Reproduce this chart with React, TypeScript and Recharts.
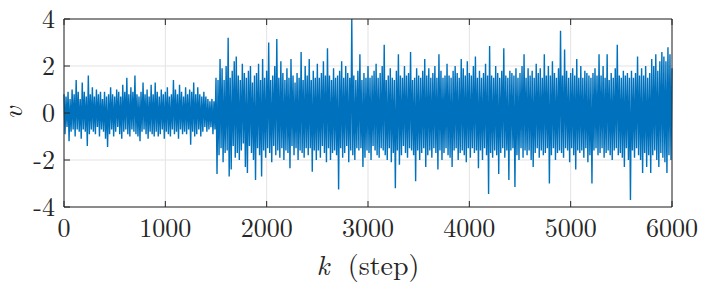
import { LineChart, Line, XAxis, YAxis, CartesianGrid } from 'recharts';

const SAMPLE_STEP = 10;

// k 0 - 1490: low noise
const vSeg1 = [
  0.8, -0.9, 0.7, -0.6, 0.9, -1.2, 0.6, -0.8, 1.0, -0.7,
  0.8, -1.0, 1.4, -0.7, 0.9, -0.8, 0.6, -1.1, 1.3, -0.7,
  0.9, -0.8, 0.7, -1.4, 1.6, -0.9, 0.8, -0.7, 1.1, -0.8,
  0.7, -0.9, 1.0, -0.6, 0.8, -1.0, 0.9, -0.7, 0.6, -0.8,
  0.9, -1.1, 0.7, -1.45, 0.8, -0.9, 1.1, -0.7, 0.8, -1.0,
  0.7, -0.8, 1.0, -0.6, 0.9, -0.9, 0.7, -1.1, 1.2, -0.8,
  0.9, -0.7, 1.5, -0.9, 0.8, -1.0, 1.1, -0.7, 0.9, -0.8,
  1.6, -0.9, 0.8, -1.0, 0.7, -1.2, 0.9, -0.8, 1.3, -0.7,
  0.8, -0.9, 1.0, -1.1, 0.7, -0.8, 1.2, -0.9, 0.8, -1.0,
  1.3, -0.8, 0.9, -1.0, 0.7, -0.9, 1.0, -0.7, 0.8, -1.1,
  0.9, -0.8, 1.1, -0.9, 0.7, -1.0, 0.8, -0.7, 1.4, -0.9,
  1.0, -0.8, 0.8, -1.1, 1.2, -0.7, 0.9, -0.9, 0.7, -0.8,
  1.1, -0.9, 0.8, -0.7, 1.0, -1.35, 0.9, -0.8, 1.3, -1.0,
  0.8, -0.9, 1.1, -0.7, 0.8, -1.0, 0.7, -0.8, 0.9, -0.6,
  0.7, -0.8, 0.6, -0.7, 0.5, -0.6, 0.6, -0.9, 0.5, -0.7,
];

// k 1500 - 2990
const vSeg2 = [
  1.5, -2.6, 1.4, -1.8, 2.3, -1.5, 1.9, -2.1, 1.4, -1.7,
  2.0, -1.6, 3.2, -2.7, 1.5, -2.4, 1.8, -1.4, 2.2, -1.9,
  2.4, -1.7, 1.6, -2.0, 1.4, -1.6, 2.1, -1.3, 1.7, -2.3,
  1.5, -2.55, 1.8, -1.4, 2.0, -1.7, 1.3, -2.0, 1.6, -2.85,
  1.7, -1.5, 2.1, -1.8, 1.4, -2.7, 2.3, -1.6, 1.5, -1.9,
  1.8, -1.5, 3.0, -1.7, 1.4, -2.1, 1.6, -1.4, 2.0, -1.8,
  3.15, -1.6, 1.5, -1.9, 2.2, -1.5, 1.7, -2.0, 1.4, -1.6,
  1.9, -1.7, 1.5, -2.35, 2.3, -1.4, 1.6, -1.8, 1.3, -1.5,
  1.7, -2.0, 1.5, -1.6, 2.6, -1.7, 1.4, -1.9, 2.0, -1.5,
  1.6, -1.8, 2.3, -1.5, 1.4, -2.5, 1.8, -1.6, 1.5, -2.0,
  2.1, -1.6, 1.5, -1.9, 1.7, -1.4, 2.2, -1.7, 1.6, -2.1,
  2.75, -1.5, 1.6, -2.0, 1.4, -1.7, 1.9, -1.6, 1.5, -1.8,
  1.6, -3.25, 1.8, -1.5, 2.2, -1.9, 1.5, -1.7, 2.0, -1.4,
  1.7, -2.1, 1.5, -1.6, 4.0, -1.8, 1.6, -2.0, 1.4, -1.5,
  1.8, -1.6, 2.5, -1.5, 1.4, -2.3, 1.7, -1.9, 1.5, -1.6,
];

// k 3000 - 4490
const vSeg3 = [
  2.0, -1.7, 1.5, -2.0, 1.6, -1.4, 1.8, -1.6, 2.1, -1.8,
  1.5, -1.9, 1.7, -1.5, 2.0, -1.6, 2.9, -1.8, 1.4, -2.0,
  1.6, -1.5, 1.9, -2.1, 1.5, -1.7, 1.4, -3.2, 1.8, -1.6,
  2.5, -2.2, 1.6, -1.8, 1.5, -1.4, 2.0, -1.7, 1.6, -1.9,
  1.7, -1.5, 2.6, -1.6, 1.4, -1.8, 1.5, -2.9, 1.9, -1.6,
  1.6, -2.0, 1.5, -1.7, 1.8, -1.5, 2.3, -2.3, 1.6, -1.8,
  1.9, -1.6, 1.5, -1.9, 1.7, -1.5, 2.0, -1.7, 1.5, -2.4,
  2.5, -1.6, 1.8, -2.0, 1.5, -1.7, 1.6, -1.5, 2.1, -1.8,
  1.6, -1.9, 1.5, -2.3, 1.8, -1.6, 2.0, -1.5, 1.7, -2.0,
  1.5, -1.7, 2.3, -1.6, 1.9, -1.8, 1.6, -2.1, 2.2, -1.5,
  1.7, -1.9, 1.6, -1.5, 2.0, -1.7, 2.4, -1.6, 1.5, -2.35,
  1.8, -1.6, 1.5, -2.0, 1.7, -1.5, 2.1, -1.8, 1.6, -3.45,
  2.85, -1.7, 1.6, -1.9, 1.5, -1.6, 2.0, -1.8, 1.7, -2.6,
  1.5, -1.7, 1.8, -1.5, 2.75, -1.9, 1.6, -1.6, 1.5, -2.85,
  1.8, -1.6, 1.7, -1.5, 1.6, -3.15, 1.9, -1.8, 1.5, -2.0,
];

// k 4500 - 6000
const vSeg4 = [
  1.7, -1.5, 2.0, -1.9, 2.5, -1.6, 1.5, -1.8, 1.9, -1.6,
  1.6, -2.0, 1.8, -2.3, 1.5, -1.7, 2.1, -1.5, 1.7, -1.9,
  1.9, -1.6, 1.5, -1.8, 2.5, -1.7, 1.6, -1.5, 2.0, -3.0,
  1.6, -1.8, 2.2, -1.5, 1.7, -2.0, 1.5, -1.7, 1.9, -1.6,
  3.5, -1.7, 1.6, -1.9, 2.7, -1.5, 1.8, -1.6, 1.5, -2.1,
  1.7, -1.5, 1.9, -1.8, 1.6, -2.4, 2.3, -1.6, 1.5, -1.7,
  2.0, -1.6, 1.5, -1.9, 1.8, -1.5, 1.7, -2.1, 1.6, -1.8,
  1.5, -3.0, 1.7, -1.6, 1.9, -1.5, 1.6, -1.8, 2.5, -1.7,
  1.6, -1.5, 2.0, -1.9, 1.5, -1.7, 2.5, -1.6, 1.4, -1.8,
  1.7, -2.0, 1.5, -1.6, 1.9, -1.5, 2.9, -1.8, 1.6, -1.7,
  1.5, -1.9, 1.8, -2.3, 1.6, -1.5, 1.7, -2.0, 1.5, -3.7,
  1.8, -1.6, 1.5, -1.9, 1.7, -1.5, 2.4, -1.8, 1.6, -2.0,
  1.9, -2.55, 1.6, -1.7, 2.0, -2.3, 1.5, -1.8, 1.7, -2.55,
  2.3, -1.8, 2.0, -1.6, 2.5, -2.0, 1.8, -2.3, 2.2, -1.7,
  2.6, -1.9, 2.4, -2.1, 2.2, -2.55, 2.8, -1.8, 2.5, -2.0,
  1.9,
];

const xTicks = [0, 1000, 2000, 3000, 4000, 5000, 6000];
const yTicks = [-4, -2, 0, 2, 4];

const data = [...vSeg1, ...vSeg2, ...vSeg3, ...vSeg4].map((v, i) => ({ k: i * SAMPLE_STEP, v }));

const FONT = '"Latin Modern Roman", "Liberation Serif", serif';
const INK = '#262626';
const TICK_LEN = 6;

const BottomTick = (props: any) => {
  const { x, y, payload } = props;
  return (
    <g>
      <line x1={x} x2={x} y1={y} y2={y - TICK_LEN} stroke={INK} strokeWidth={1} />
      <text x={x} y={y + 30} textAnchor="middle" style={{ fontFamily: FONT, fontSize: 26 }} fill={INK}>
        {payload.value}
      </text>
    </g>
  );
};

const TopTick = (props: any) => {
  const { x, y } = props;
  return <line x1={x} x2={x} y1={y} y2={y + TICK_LEN} stroke={INK} strokeWidth={1} />;
};

const LeftTick = (props: any) => {
  const { x, y, payload } = props;
  return (
    <g>
      <line x1={x} x2={x + TICK_LEN} y1={y} y2={y} stroke={INK} strokeWidth={1} />
      <text x={x - 9} y={y + 8.5} textAnchor="end" style={{ fontFamily: FONT, fontSize: 26 }} fill={INK}>
        {String(payload.value).replace('\u2212', '-')}
      </text>
    </g>
  );
};

const RightTick = (props: any) => {
  const { x, y } = props;
  return <line x1={x} x2={x - TICK_LEN} y1={y} y2={y} stroke={INK} strokeWidth={1} />;
};

const XLabel = (props: any) => {
  const vb = props.viewBox || { x: 64, y: 207, width: 608 };
  return (
    <text x={vb.x + vb.width / 2} y={vb.y + 68} textAnchor="middle" style={{ fontFamily: FONT, fontSize: 28 }} fill={INK}>
      <tspan fontStyle="italic">k</tspan>
      <tspan dx={9}> (step)</tspan>
    </text>
  );
};

const YLabel = (props: any) => {
  const vb = props.viewBox || { x: 64, y: 19, height: 188 };
  const cy = vb.y + vb.height / 2;
  return (
    <g transform={`translate(22 ${cy}) rotate(-90)`}>
      <text x={0} y={0} textAnchor="middle" style={{ fontFamily: FONT, fontSize: 28, fontStyle: 'italic' }} fill={INK}>
        v
      </text>
    </g>
  );
};

export default function App() {
  return (
    <div style={{ position: 'fixed', left: 0, top: 0, background: '#fff' }}>
      <LineChart width={706} height={291} data={data} margin={{ top: 18, right: 33, bottom: 83, left: 63 }}>
        <CartesianGrid stroke="#e3e3e3" strokeWidth={1} horizontalValues={yTicks} verticalValues={xTicks} />
        <XAxis dataKey="k" type="number" domain={[0, 6000]} ticks={xTicks} height={1} tickSize={0} tickMargin={0}
          axisLine={{ stroke: INK }} tickLine={false} tick={<BottomTick />} interval={0} label={<XLabel />} />
        <XAxis xAxisId="top" orientation="top" dataKey="k" type="number" domain={[0, 6000]} ticks={xTicks} height={1}
          tickSize={0} tickMargin={0} axisLine={{ stroke: INK }} tickLine={false} tick={<TopTick />} interval={0} />
        <YAxis type="number" domain={[-4, 4]} ticks={yTicks} width={1} tickSize={0} tickMargin={0}
          axisLine={{ stroke: INK }} tickLine={false} tick={<LeftTick />} interval={0} label={<YLabel />} />
        <YAxis yAxisId="right" orientation="right" type="number" domain={[-4, 4]} ticks={yTicks} width={1} tickSize={0}
          tickMargin={0} axisLine={{ stroke: INK }} tickLine={false} tick={<RightTick />} interval={0} />
        <Line dataKey="v" stroke="#0072BD" strokeWidth={1.4} dot={false} isAnimationActive={false} type="linear" />
      </LineChart>
    </div>
  );
}
